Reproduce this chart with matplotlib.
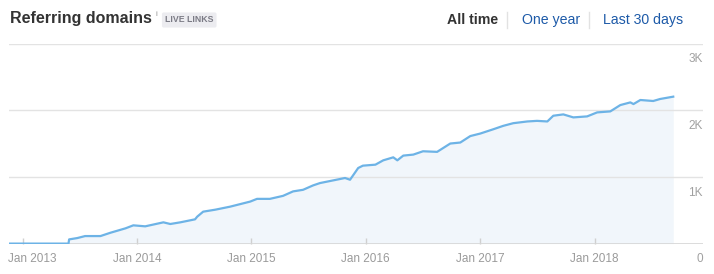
import matplotlib
matplotlib.use("Agg")
import matplotlib.pyplot as plt
import matplotlib.transforms as mtransforms
from matplotlib.lines import Line2D
import pandas as pd

plt.rcParams['font.family'] = ['Liberation Sans', 'DejaVu Sans']

# referring domains over time
dates = ['2012-11-18', '2013-05-27', '2013-05-29', '2013-06-24', '2013-07-19', '2013-09-06',
         '2013-10-08', '2013-11-25', '2013-12-20', '2014-01-27', '2014-03-26', '2014-04-17',
         '2014-05-19', '2014-07-05', '2014-07-12', '2014-07-31', '2014-09-08', '2014-10-25',
         '2014-12-28', '2015-01-19', '2015-03-01', '2015-04-12', '2015-05-14', '2015-06-15',
         '2015-07-17', '2015-08-08', '2015-09-19', '2015-10-27', '2015-11-12', '2015-12-08',
         '2015-12-23', '2016-02-01', '2016-02-26', '2016-03-29', '2016-04-11', '2016-04-30',
         '2016-06-01', '2016-07-02', '2016-08-16', '2016-09-27', '2016-10-29', '2016-11-30',
         '2017-01-01', '2017-02-12', '2017-03-15', '2017-04-16', '2017-05-31', '2017-07-01',
         '2017-08-03', '2017-08-22', '2017-09-23', '2017-10-25', '2017-12-08', '2018-01-09',
         '2018-02-20', '2018-03-24', '2018-04-25', '2018-05-05', '2018-05-27', '2018-07-07',
         '2018-07-29', '2018-09-09']
domains = [0, 0, 63, 83, 113, 113,
           163, 229, 274, 259, 319, 294,
           319, 364, 404, 479, 509, 554,
           630, 671, 671, 716, 783, 807,
           873, 908, 948, 984, 958, 1134,
           1169, 1184, 1249, 1294, 1249, 1320,
           1335, 1385, 1376, 1501, 1516, 1613,
           1651, 1716, 1766, 1806, 1832, 1841,
           1832, 1918, 1938, 1893, 1908, 1968,
           1983, 2078, 2118, 2093, 2154, 2139,
           2169, 2204]

year_ticks = ['2013-01-01', '2014-01-01', '2015-01-01', '2016-01-01', '2017-01-01', '2018-01-01']
year_labels = ['Jan 2013', 'Jan 2014', 'Jan 2015', 'Jan 2016', 'Jan 2017', 'Jan 2018']
y_ticks = [0, 1000, 2000, 3000]
y_labels = ['0', '1K', '2K', '3K']

x = pd.to_datetime(dates)

fig = plt.figure(figsize=(7.14, 2.74), dpi=100)
ax = fig.add_axes([9 / 714, 1 - 243.6 / 274, 694 / 714, 200 / 274])

ax.fill_between(x, domains, 0, color='#f1f6fb', lw=0, zorder=1)
ax.plot(x, domains, color='#6db3e6', lw=1.6, zorder=3, solid_joinstyle='round')

ax.set_xlim(pd.Timestamp('2012-11-18'), pd.Timestamp('2018-12-13'))
ax.set_ylim(0, 3000)

for v in y_ticks[1:]:
    ax.axhline(v, color='#e3e3e3', lw=1, zorder=2)
ax.axhline(0, color='#d6d6d6', lw=1.2, zorder=2)

for s in ax.spines.values():
    s.set_visible(False)

ax.set_xticks(pd.to_datetime(year_ticks))
ax.set_xticklabels(year_labels)
ax.tick_params(axis='x', direction='in', length=4, width=1, color='#d0d0d0',
               labelsize=8.5, labelcolor='#9a9a9a', pad=7)
ax.set_yticks([])
# first label is pushed right so it stays inside the figure
first = ax.get_xticklabels()[0]
first.set_transform(first.get_transform() +
                    mtransforms.ScaledTranslation(9 / 100, 0, fig.dpi_scale_trans))

trans = mtransforms.blended_transform_factory(ax.transAxes, ax.transData)
for v, lab in zip(y_ticks, y_labels):
    ax.annotate(lab, xy=(1, v), xycoords=trans, xytext=(0, -7), textcoords='offset points',
                ha='right', va='top', fontsize=8.5, color='#a0a0a0')

# header
fig.text(10 / 714, 1 - 19 / 274, 'Referring domains', fontsize=11.5, fontweight='bold',
         color='#333333', va='center', ha='left')
fig.text(155 / 714, 1 - 14 / 274, 'i', fontsize=6, color='#999999', va='center', ha='left')
fig.text(165 / 714, 1 - 20 / 274, 'LIVE LINKS', fontsize=6.3, fontweight='bold', color='#7b7b85',
         va='center', ha='left',
         bbox=dict(boxstyle='round,pad=0.35,rounding_size=0.2', fc='#ececf0', ec='none'))

fig.text(447 / 714, 1 - 20 / 274, 'All time', fontsize=10.2, fontweight='bold',
         color='#333333', va='center', ha='left')
fig.text(522 / 714, 1 - 20 / 274, 'One year', fontsize=10.2, color='#1d5aa8', va='center', ha='left')
fig.text(603 / 714, 1 - 20 / 274, 'Last 30 days', fontsize=10.2, color='#1d5aa8', va='center', ha='left')
for sx in [507, 589]:
    fig.add_artist(Line2D([sx / 714, sx / 714], [1 - 12 / 274, 1 - 28 / 274],
                          color='#e2e2e2', lw=1))

fig.savefig('out.png', dpi=100)
